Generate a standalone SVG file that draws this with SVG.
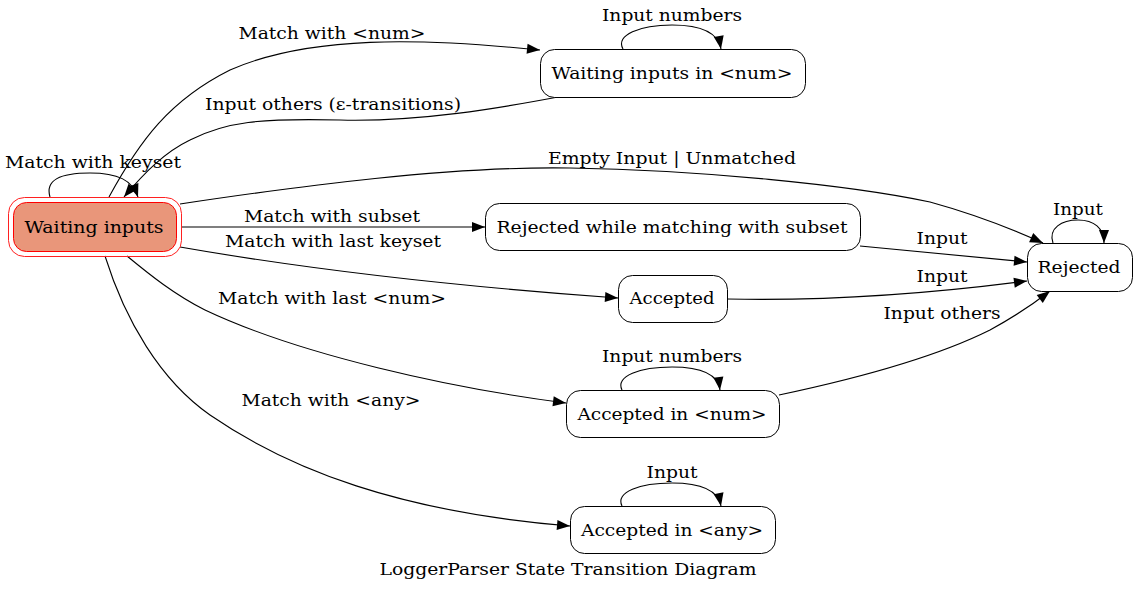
<svg xmlns="http://www.w3.org/2000/svg" width="1137" height="591" viewBox="0 0 1137 591">
<style>
text{font-family:"DejaVu Serif","Liberation Serif",serif;font-size:16px;fill:#000;text-anchor:middle}
.n{fill:#fff;stroke:#000;stroke-width:1}
.e{fill:none;stroke:#000;stroke-width:1.1;marker-end:url(#ah)}
</style>
<defs>
<marker id="ah" markerUnits="userSpaceOnUse" markerWidth="14" markerHeight="11" refX="13" refY="5" orient="auto" overflow="visible">
<path d="M0,0 L13,5 L0,10 z" fill="#000"/>
</marker>
</defs>
<rect width="1137" height="591" fill="#fff"/>
<g id="edges">
<path class="e" d="M109,197 C140,140 170,100 230,70 C310,35 420,38 540,50"/>
<path class="e" d="M558,97 C500,108 420,122 340,120 C260,118 225,122 190,140 C165,152 145,172 124,197"/>
<path class="e" d="M50,197 C45,180 60,173 90,173 C118,173 132,180 138,197"/>
<path class="e" d="M180,204 C300,186 450,166 570,168 C700,170 850,185 930,202 C970,213 1010,228 1043,243"/>
<path class="e" d="M181,227 L485,227"/>
<path class="e" d="M180,247 C300,268 450,286 618,298"/>
<path class="e" d="M127,256 C150,275 175,295 205,310 C300,355 450,388 566,403"/>
<path class="e" d="M105,256 C125,320 160,380 210,415 C290,470 400,512 570,526"/>
<path class="e" d="M860,246 L1027,262"/>
<path class="e" d="M727,299 C820,301 920,295 1027,281"/>
<path class="e" d="M779,395 C850,380 930,360 990,330 C1012,318 1032,305 1050,291"/>
<path class="e" d="M623,49 C615,35 640,25 672,25 C700,25 718,32 721,49"/>
<path class="e" d="M1053,243 C1048,228 1062,220 1078,220 C1094,220 1104,228 1104,243"/>
<path class="e" d="M622,390 C615,376 640,367 672,367 C700,367 718,374 720,390"/>
<path class="e" d="M622,506 C615,492 640,483 672,483 C700,483 718,490 721,506"/>
</g>
<g id="edge-labels">
<text x="332" y="39" textLength="187" lengthAdjust="spacingAndGlyphs">Match with &lt;num&gt;</text>
<text x="333" y="110" textLength="256" lengthAdjust="spacingAndGlyphs">Input others (ε-transitions)</text>
<text x="93" y="168" textLength="176" lengthAdjust="spacingAndGlyphs">Match with keyset</text>
<text x="672" y="164" textLength="248" lengthAdjust="spacingAndGlyphs">Empty Input | Unmatched</text>
<text x="332" y="222" textLength="176" lengthAdjust="spacingAndGlyphs">Match with subset</text>
<text x="333" y="247" textLength="216" lengthAdjust="spacingAndGlyphs">Match with last keyset</text>
<text x="332" y="304" textLength="228" lengthAdjust="spacingAndGlyphs">Match with last &lt;num&gt;</text>
<text x="331" y="406" textLength="179" lengthAdjust="spacingAndGlyphs">Match with &lt;any&gt;</text>
<text x="942" y="244" textLength="51" lengthAdjust="spacingAndGlyphs">Input</text>
<text x="942" y="282" textLength="51" lengthAdjust="spacingAndGlyphs">Input</text>
<text x="942" y="319" textLength="117" lengthAdjust="spacingAndGlyphs">Input others</text>
<text x="672" y="21" textLength="140" lengthAdjust="spacingAndGlyphs">Input numbers</text>
<text x="1078" y="215" textLength="50" lengthAdjust="spacingAndGlyphs">Input</text>
<text x="672" y="362" textLength="140" lengthAdjust="spacingAndGlyphs">Input numbers</text>
<text x="672" y="478" textLength="51" lengthAdjust="spacingAndGlyphs">Input</text>
</g>
<g id="waiting-inputs">
<rect x="8.5" y="197.5" width="173" height="59" rx="16" fill="none" stroke="#ff2020" stroke-width="1"/>
<rect x="13.5" y="202.5" width="163" height="49" rx="13" fill="#e9967a" stroke="#ff0000" stroke-width="1"/>
<text x="94" y="233" textLength="139" lengthAdjust="spacingAndGlyphs">Waiting inputs</text>
</g>
<g id="waiting-num">
<rect class="n" x="540.5" y="49.5" width="265" height="48" rx="14"/>
<text x="672" y="79" textLength="241" lengthAdjust="spacingAndGlyphs">Waiting inputs in &lt;num&gt;</text>
</g>
<g id="rejected-subset">
<rect class="n" x="485.5" y="203.5" width="375" height="47" rx="14"/>
<text x="672" y="233" textLength="351" lengthAdjust="spacingAndGlyphs">Rejected while matching with subset</text>
</g>
<g id="accepted">
<rect class="n" x="618.5" y="275.5" width="109" height="47" rx="14"/>
<text x="672" y="304" textLength="85" lengthAdjust="spacingAndGlyphs">Accepted</text>
</g>
<g id="accepted-num">
<rect class="n" x="566.5" y="390.5" width="213" height="47" rx="14"/>
<text x="672" y="420" textLength="189" lengthAdjust="spacingAndGlyphs">Accepted in &lt;num&gt;</text>
</g>
<g id="accepted-any">
<rect class="n" x="570.5" y="506.5" width="205" height="47" rx="14"/>
<text x="672" y="536" textLength="182" lengthAdjust="spacingAndGlyphs">Accepted in &lt;any&gt;</text>
</g>
<g id="rejected">
<rect class="n" x="1027.5" y="243.5" width="105" height="48" rx="14"/>
<text x="1079" y="273" textLength="83" lengthAdjust="spacingAndGlyphs">Rejected</text>
</g>
<text x="568" y="575" textLength="377" lengthAdjust="spacingAndGlyphs">LoggerParser State Transition Diagram</text>
</svg>
